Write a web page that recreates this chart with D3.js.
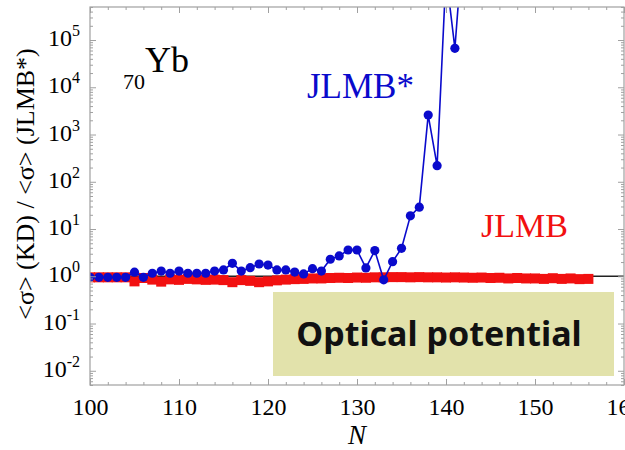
<!DOCTYPE html>
<html><head><meta charset="utf-8">
<script src="https://cdn.jsdelivr.net/npm/d3@7"></script>
<style>body{margin:0;background:#fff} svg{display:block}</style>
</head><body>
<svg id="c" width="625" height="450"></svg>
<script>
// ---- data ----
const nBlue = [100,101,102,103,104,105,106,107,108,109,110,111,112,113,114,115,116,117,118,119,120,
  121,122,123,124,125,126,127,128,129,130,131,132,133,134,135,136,137,138,139,140,141,142];
const jlmbStar = [0.95,0.95,0.95,0.95,0.95,1.22,0.95,1.16,1.29,1.16,1.29,1.16,1.16,1.16,1.29,1.36,1.88,1.29,1.52,1.82,1.73,
  1.36,1.36,1.23,1.12,1.45,1.29,2.29,2.69,3.6,3.6,1.5,3.5,0.84,2.04,3.9,19,29,2580,219,2.5e6,66800,2e7];
const nRed = [100,101,102,103,104,105,106,107,108,109,110,111,112,113,114,115,116,117,118,119,120,
  121,122,123,124,125,126,127,128,129,130,131,132,133,134,135,136,137,138,139,140,
  141,142,143,144,145,146,147,148,149,150,151,152,153,154,155,156];
const jlmb = [0.95,0.95,0.95,0.95,0.95,0.78,0.92,0.85,0.77,0.86,0.84,0.88,0.86,0.84,0.85,0.83,0.75,0.83,0.8,0.75,0.78,
  0.82,0.85,0.87,0.88,0.9,0.9,0.92,0.93,0.92,0.94,0.93,0.95,0.95,0.96,0.96,0.95,0.96,0.95,0.95,0.94,
  0.95,0.94,0.93,0.94,0.92,0.93,0.9,0.92,0.9,0.9,0.88,0.91,0.88,0.9,0.87,0.88];
const xMajor = [100,110,120,130,140,150,160];
const xMinor = [102,104,106,108,112,114,116,118,122,124,126,128,132,134,136,138,142,144,146,148,152,154,156,158];
const yExps = [-2,-1,0,1,2,3,4,5];
const yMinorMult = [2,3,4,5,6,7,8,9];

// ---- layout ----
const svg = d3.select("#c");
const L = 90, R = 624, T = 7, B = 385;
const x = d3.scaleLinear().domain([100, 160]).range([L, R]);
const y = d3.scaleLog().domain([0.005, 5e5]).range([B, T]);
const serif = "'Liberation Serif','Times New Roman',serif";
const frameCol = "#a0a0a0";
const blue = "#0a0acc", red = "#f21010";

svg.append("defs").append("clipPath").attr("id","clip")
  .append("rect").attr("x",L).attr("y",T).attr("width",R-L).attr("height",B-T);

// annotation box
svg.append("rect").attr("x",273).attr("y",292).attr("width",341).attr("height",84).attr("fill","#e2e2ab");
svg.append("text").attr("x",439).attr("y",346).attr("text-anchor","middle")
  .attr("font-family","'Noto Sans',sans-serif").attr("font-weight","bold").attr("font-size",34)
  .attr("fill","#111").text("Optical potential");

// reference line at 1
svg.append("line").attr("x1",L).attr("x2",R).attr("y1",y(1)).attr("y2",y(1))
  .attr("stroke","#222").attr("stroke-width",1.5);

const plot = svg.append("g").attr("clip-path","url(#clip)");
const redData = nRed.map((n,i)=>({n, v: jlmb[i]}));
const blueData = nBlue.map((n,i)=>({n, v: jlmbStar[i]}));
const line = d3.line().x(d=>x(d.n)).y(d=>y(d.v));

plot.append("path").datum(redData).attr("d",line).attr("fill","none").attr("stroke",red).attr("stroke-width",3);
plot.selectAll("rect.sq").data(redData).join("rect").attr("class","sq")
  .attr("x",d=>x(d.n)-5).attr("y",d=>y(d.v)-5).attr("width",10).attr("height",10).attr("fill",red);

plot.append("path").datum(blueData).attr("d",line).attr("fill","none").attr("stroke",blue).attr("stroke-width",1.6);
plot.selectAll("circle").data(blueData).join("circle")
  .attr("cx",d=>x(d.n)).attr("cy",d=>y(d.v)).attr("r",4.6).attr("fill",blue);

// axes
function clean(g){ g.select(".domain").remove(); g.selectAll("line").attr("stroke",frameCol); }
const yMinor = [];
for (let e=-3; e<=5; e++) for (const m of yMinorMult) { const v = m*Math.pow(10,e); if (v>=0.005 && v<=5e5) yMinor.push(v); }

// bottom
svg.append("g").attr("transform",`translate(0,${B})`)
  .call(d3.axisBottom(x).tickValues(xMajor).tickSize(-6).tickPadding(13).tickFormat(d3.format("d")))
  .call(clean)
  .call(g=>g.selectAll("text").attr("font-family",serif).attr("font-size",24).attr("fill","#000"));
svg.append("g").attr("transform",`translate(0,${B})`)
  .call(d3.axisBottom(x).tickValues(xMinor).tickSize(-3).tickFormat("")).call(clean);
// top
svg.append("g").attr("transform",`translate(0,${T})`)
  .call(d3.axisTop(x).tickValues(xMajor).tickSize(-6).tickFormat("")).call(clean);
svg.append("g").attr("transform",`translate(0,${T})`)
  .call(d3.axisTop(x).tickValues(xMinor).tickSize(-3).tickFormat("")).call(clean);
// left
const yLeft = svg.append("g").attr("transform",`translate(${L},0)`)
  .call(d3.axisLeft(y).tickValues(yExps.map(e=>Math.pow(10,e))).tickSize(-6).tickPadding(10).tickFormat(""))
  .call(clean);
yLeft.selectAll(".tick text").each(function(d,i){
  const t = d3.select(this).attr("dy","0.23em").attr("font-family",serif).attr("font-size",24).attr("fill","#000");
  t.append("tspan").text("10");
  t.append("tspan").attr("dy",-10).attr("font-size",16).text(String(yExps[i]));
});
svg.append("g").attr("transform",`translate(${L},0)`)
  .call(d3.axisLeft(y).tickValues(yMinor).tickSize(-3).tickFormat("")).call(clean);
// right
svg.append("g").attr("transform",`translate(${R},0)`)
  .call(d3.axisRight(y).tickValues(yExps.map(e=>Math.pow(10,e))).tickSize(-6).tickFormat("")).call(clean);
svg.append("g").attr("transform",`translate(${R},0)`)
  .call(d3.axisRight(y).tickValues(yMinor).tickSize(-3).tickFormat("")).call(clean);

// frame
svg.append("rect").attr("x",L).attr("y",T).attr("width",R-L).attr("height",B-T)
  .attr("fill","none").attr("stroke",frameCol).attr("stroke-width",1.2);

// axis titles
svg.append("text").attr("x",357).attr("y",444).attr("text-anchor","middle")
  .attr("font-family",serif).attr("font-style","italic").attr("font-size",27).text("N");
svg.append("text").attr("transform","translate(34,184) rotate(-90)").attr("text-anchor","middle")
  .attr("font-family",serif).attr("font-size",26).text("<σ> (KD) / <σ> (JLMB*)");

// labels
const yb = svg.append("text").attr("x",123).attr("y",89).attr("font-family",serif);
yb.append("tspan").attr("font-size",22).text("70");
yb.append("tspan").attr("dy",-17).attr("font-size",36).text("Yb");
svg.append("text").attr("x",307).attr("y",98).attr("font-family",serif).attr("font-size",35)
  .attr("fill",blue).text("JLMB*");
svg.append("text").attr("x",481).attr("y",237).attr("font-family",serif).attr("font-size",34)
  .attr("fill",red).text("JLMB");
</script>
</body></html>
